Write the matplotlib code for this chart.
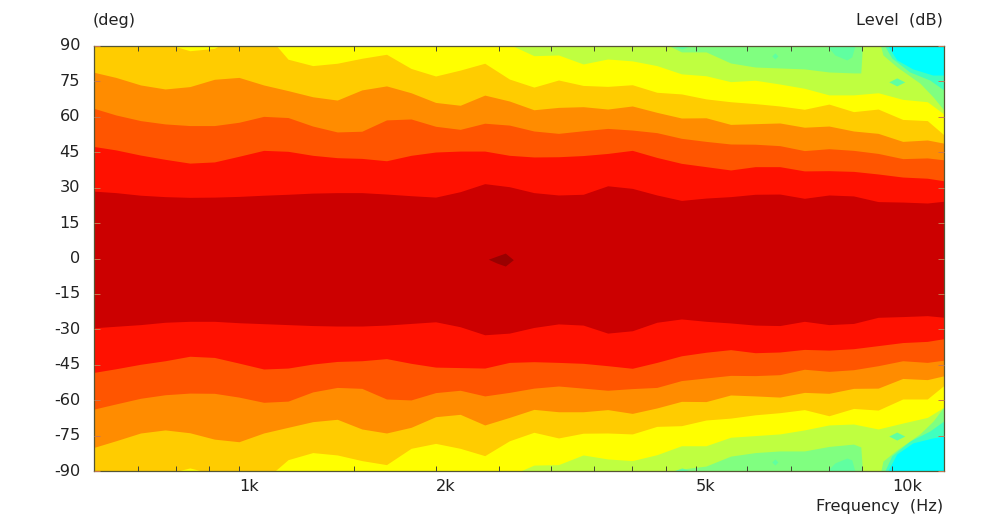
import matplotlib
matplotlib.use("Agg")
import matplotlib.pyplot as plt
from matplotlib.transforms import ScaledTranslation

plt.rcParams['font.family'] = ['DejaVu Sans']
plt.rcParams['axes.unicode_minus'] = False

# 1/8 octave measurement columns (Hz)
freq = [595, 648, 707, 771, 841, 917, 1000, 1091, 1189, 1297, 1414, 1542, 1682, 1834,
        2000, 2181, 2378, 2594, 2828, 3084, 3364, 3668, 4000, 4362, 4757, 5187, 5657,
        6169, 6727, 7336, 8000, 8724, 9514, 10375, 11314, 12338]

# Angle (deg) at which each contour band ends, above and below the axis
dark_top = [28.6,27.9,26.8,26.2,25.9,26.0,26.3,26.8,27.2,27.7,27.9,27.9,27.3,26.6,26.0,28.3,31.7,30.4,
            27.9,26.9,27.2,30.8,29.7,26.9,24.6,25.6,26.2,27.2,27.3,25.5,26.9,26.5,24.1,23.9,23.5,24.6]
dark_bot = [-29.4,-28.7,-28.0,-27.0,-26.6,-26.6,-27.2,-27.6,-28.0,-28.4,-28.6,-28.6,-28.2,-27.5,-26.8,-28.9,-32.3,-31.6,
            -29.2,-27.7,-28.2,-31.6,-30.6,-27.0,-25.6,-26.6,-27.3,-28.2,-28.4,-26.6,-28.0,-27.5,-24.9,-24.6,-24.2,-25.2]
red_top = [47.6,46.0,43.8,42.0,40.4,40.9,43.3,45.8,45.4,43.7,42.7,42.4,41.4,43.7,45.1,45.5,45.5,43.7,
           43.0,43.1,43.6,44.5,45.8,42.8,40.3,38.9,37.5,38.9,38.9,37.1,37.2,36.9,35.8,34.5,34.0,32.4]
red_bot = [-48.4,-46.7,-44.8,-43.3,-41.4,-41.9,-44.3,-46.8,-46.4,-44.7,-43.6,-43.3,-42.4,-44.4,-46.0,-46.2,-46.4,-44.0,
           -43.7,-44.0,-44.4,-45.4,-46.5,-44.0,-41.2,-39.7,-38.6,-39.9,-39.6,-38.5,-38.8,-38.2,-36.9,-35.6,-35.1,-33.4]
orangered_top = [63.9,60.8,58.4,57.0,56.3,56.3,57.7,60.2,59.7,56.1,53.6,53.9,58.7,59.1,56.0,54.7,57.3,56.5,
                 54.0,53.0,54.1,55.1,54.4,53.3,50.9,49.6,48.5,48.4,47.8,45.7,46.5,45.8,44.5,42.3,42.6,41.4]
orangered_bot = [-64.0,-61.6,-59.2,-57.7,-57.0,-57.1,-58.7,-60.9,-60.4,-56.5,-54.6,-55.0,-59.5,-59.9,-56.8,-55.8,-58.2,-56.7,
                 -54.9,-54.0,-54.9,-55.8,-55.1,-54.6,-51.7,-50.6,-49.5,-49.6,-49.2,-46.9,-47.8,-47.1,-45.4,-43.3,-44.0,-42.6]
orange_top = [79.1,76.7,73.5,71.8,72.8,75.9,76.7,73.5,71.1,68.5,67.1,71.4,73.1,70.2,66.1,64.9,69.2,66.7,
              63.0,64.0,64.3,63.3,64.6,61.9,59.5,59.6,56.8,57.1,57.4,55.6,56.1,54.0,53.0,49.6,50.2,48.2]
orange_bot = [-80.3,-77.2,-73.9,-72.6,-73.8,-76.5,-77.6,-73.9,-71.5,-69.1,-68.1,-72.2,-73.9,-71.5,-67.0,-66.0,-70.5,-67.3,
              -63.9,-64.9,-64.9,-64.0,-65.6,-63.3,-60.5,-60.6,-57.8,-58.2,-58.7,-56.7,-57.1,-55.0,-54.9,-50.8,-51.3,-48.9]
gold_top = [95.4,95.4,91.8,91.1,88.0,89.0,94.7,96.4,84.4,81.7,82.7,84.8,86.5,80.5,77.3,79.8,82.7,76.0,
            72.6,75.6,73.3,72.9,73.6,70.4,69.7,67.6,66.4,65.6,64.6,63.2,65.4,62.2,63.3,58.9,58.4,49.5]
gold_bot = [-94.1,-94.1,-94.1,-91.3,-88.7,-91.3,-92.7,-94.1,-85.2,-82.2,-83.2,-85.6,-87.3,-80.4,-78.3,-80.4,-83.5,-77.2,
            -73.6,-76.0,-74.0,-73.9,-74.3,-71.1,-70.8,-68.4,-67.6,-66.2,-65.3,-64.0,-66.6,-63.5,-64.2,-59.5,-59.5,-51.0]
yellow_top = [95.4,95.4,95.4,95.4,95.4,95.4,95.4,95.4,95.4,95.4,95.4,95.4,95.4,95.4,95.4,95.4,95.4,90.7,
              85.9,86.2,82.4,84.5,83.7,81.7,78.2,77.4,74.9,75.5,73.9,72.1,69.3,69.3,70.2,67.4,66.4,58.7]
yellow_bot = [-95,-95,-95,-95,-95,-95,-95,-95,-95,-95,-95,-95,-95,-95,-95,-95,-95,-92.0,
              -87.5,-87.3,-83.2,-84.9,-85.6,-83.1,-79.3,-79.3,-75.7,-75.0,-74.3,-72.6,-70.5,-70.1,-72.2,-69.7,-67.3,-60.9]

lime_freq = [595,4400,4490,4757,5187,5657,6169,6727,7336,8000,8724,8950,9013,9540,9606,9676,10170,11020,11550,11990,12338]
lime_top = [95,95,90.9,87.5,87.5,82.8,81.1,80.7,80.3,79.0,78.6,78.6,92.5,92.5,89.6,86.2,81.1,74.3,68.4,62.9,58.7]
lime_bot = [-95,-95,-90.8,-89.2,-87.9,-83.7,-82.2,-81.5,-81.5,-79.6,-78.6,-79.8,-92,-92,-90,-85.8,-81.0,-74.3,-68.8,-62.9,-59.1]

green_freq = [595,9600,9739,9982,10637,11410,11990,12338]
green_top = [95,95,90,84.9,79.0,75.6,71.4,68.8]
green_bot = [-95,-95,-90,-83.6,-77.3,-73.1,-68.8,-66.3]

teal_freq = [595,9700,9843,10160,10750,11535,11990,12338]
teal_top = [95,95,90,84.1,80.3,77.7,77.7,77.7]
teal_bot = [-95,-95,-90,-82.8,-78.1,-76.0,-75.2,-75.0]

# Small closed contours: frequencies, upper edge, lower edge
peak_freq = [2408,2480,2557,2630]
peak_hi = [-0.3,1.0,2.3,-0.5]
peak_lo = [-0.3,-1.9,-3.2,-0.5]

patch_freq = [7950,8166,8520,8670,8765]
patch_top_lo = [90,86.2,84.1,85.4,90]
patch_bot_hi = [-90,-86.6,-84.5,-85.3,-90]
notch_freq = [4617,4767,4901]
notch_top_lo = [90,88.7,90]
notch_bot_hi = [-90,-88.7,-90]
spot_freq = [6541,6613,6683]
spot_top_hi = [85.8,87.1,85.8]
spot_top_lo = [85.8,84.5,85.8]
spot_bot_hi = [-86.2,-84.9,-86.2]
spot_bot_lo = [-86.2,-87.5,-86.2]
isle_freq = [9877,10160,10450]
isle_top_hi = [74.8,76.5,74.8]
isle_top_lo = [74.8,73.1,74.8]
isle_bot_hi = [-75.2,-73.5,-75.2]
isle_bot_lo = [-75.2,-76.9,-75.2]

y_ticks = [90,75,60,45,30,15,0,-15,-30,-45,-60,-75,-90]
x_major = [1000,2000,5000,10000]
x_major_labels = ['1k','2k','5k','10k']
x_minor = [700,800,900,1500,2500,3000,3500,4000,4500,6000,7000,8000,9000]

W, H = 985, 524
fig = plt.figure(figsize=(W/100, H/100), dpi=100, facecolor='white')
ax = fig.add_axes([94/W, 1-471/H, 850/W, 425/H])
ax.set_facecolor('#00ffff')
ax.set_xscale('log')

layers = [
    (teal_freq, teal_top, teal_bot, '#40ffbf'),
    (green_freq, green_top, green_bot, '#80ff80'),
    (lime_freq, lime_top, lime_bot, '#bfff40'),
    (freq, yellow_top, yellow_bot, '#ffff00'),
    (freq, gold_top, gold_bot, '#ffcc00'),
    (freq, orange_top, orange_bot, '#ff8c00'),
    (freq, orangered_top, orangered_bot, '#ff5500'),
    (freq, red_top, red_bot, '#ff1100'),
    (freq, dark_top, dark_bot, '#cc0000'),
]
for f, top, bot, col in layers:
    ax.fill_between(f, bot, top, color=col, linewidth=0)

ax.fill_between(peak_freq, peak_lo, peak_hi, color='#990000', linewidth=0)
teal = '#60ffa0'
ax.fill_between(patch_freq, patch_top_lo, [90]*5, color=teal, linewidth=0)
ax.fill_between(patch_freq, [-90]*5, patch_bot_hi, color=teal, linewidth=0)
ax.fill_between(notch_freq, notch_top_lo, [90]*3, color=teal, linewidth=0)
ax.fill_between(notch_freq, [-90]*3, notch_bot_hi, color=teal, linewidth=0)
ax.fill_between(spot_freq, spot_top_lo, spot_top_hi, color=teal, linewidth=0)
ax.fill_between(spot_freq, spot_bot_lo, spot_bot_hi, color=teal, linewidth=0)
ax.fill_between(isle_freq, isle_top_lo, isle_top_hi, color=teal, linewidth=0)
ax.fill_between(isle_freq, isle_bot_lo, isle_bot_hi, color=teal, linewidth=0)

ax.set_xlim(600, 12000)
ax.set_ylim(-90, 90)
ax.set_yticks(y_ticks)
ax.set_yticklabels([str(v) for v in y_ticks])
ax.set_xticks(x_major)
ax.set_xticklabels(x_major_labels, ha='left')
ax.set_xticks(x_minor, minor=True)
ax.set_xticklabels([], minor=True)

fs = 11.6
tc = '#222222'
ax.tick_params(axis='x', which='both', direction='in', top=True, bottom=True, length=3.5,
               width=0.7, color='#444433', labelsize=fs, labelcolor=tc, pad=5.5)
ax.tick_params(axis='y', which='major', direction='in', left=True, right=True, length=4,
               width=0.7, color='#c87850', labelsize=fs, labelcolor=tc, pad=10)
for s in ax.spines.values():
    s.set_color('#555533')
    s.set_linewidth(0.9)
ax.set_axisbelow(False)
for lbl in ax.get_yticklabels():
    lbl.set_transform(lbl.get_transform() + ScaledTranslation(0, 1.5/100, fig.dpi_scale_trans))

fig.text(93/W, 1-20/H, '(deg)', ha='left', va='center', fontsize=fs, color=tc)
fig.text(943/W, 1-20/H, 'Level  (dB)', ha='right', va='center', fontsize=fs, color=tc)
fig.text(943/W, 1-506/H, 'Frequency  (Hz)', ha='right', va='center', fontsize=fs, color=tc)

fig.savefig('out.png', dpi=100)
